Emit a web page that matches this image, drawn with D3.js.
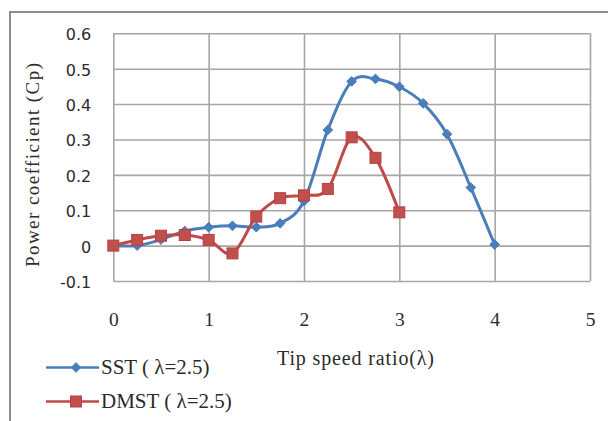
<!DOCTYPE html>
<html>
<head>
<meta charset="utf-8">
<script src="https://cdn.jsdelivr.net/npm/d3@7"></script>
<style>
  html, body { margin: 0; padding: 0; background: #fff; }
  svg { display: block; }
</style>
</head>
<body>
<svg id="chart" width="608" height="421"></svg>
<script>
// Tip speed ratio samples and power coefficient for each model
const tsr = [0, 0.25, 0.5, 0.75, 1, 1.25, 1.5, 1.75, 2, 2.25, 2.5, 2.75, 3, 3.25, 3.5, 3.75, 4];
const sstCp = [0, 0.0, 0.017, 0.041, 0.052, 0.056, 0.052, 0.063, 0.126, 0.327, 0.464, 0.471, 0.449, 0.402, 0.315, 0.164, 0.003];
const dmstTsr = [0, 0.25, 0.5, 0.75, 1, 1.25, 1.5, 1.75, 2, 2.25, 2.5, 2.75, 3];
const dmstCp = [0, 0.016, 0.028, 0.030, 0.016, -0.022, 0.082, 0.134, 0.142, 0.160, 0.306, 0.248, 0.094];

const xTicks = [0, 1, 2, 3, 4, 5];
const xTickLabels = ["0", "1", "2", "3", "4", "5"];
const yTicks = [-0.1, 0, 0.1, 0.2, 0.3, 0.4, 0.5, 0.6];
const yTickLabels = ["-0.1", "0", "0.1", "0.2", "0.3", "0.4", "0.5", "0.6"];

const seriesNames = ["SST ( \u03bb=2.5)", "DMST ( \u03bb=2.5)"];
const xTitle = "Tip speed ratio(\u03bb)";
const yTitle = "Power coefficient (Cp)";

const svg = d3.select("#chart");
const plotL = 113.3, plotR = 590, plotT = 33.3, plotB = 281;

const x = d3.scaleLinear().domain([0, 5]).range([plotL, plotR]);
const y = d3.scaleLinear().domain([-0.1, 0.6]).range([plotB, plotT]);

const blue = "#4a7ebb", red = "#be4b48";
const ink = "#2b2b2b";
const serif = "'Liberation Serif', 'Times New Roman', serif";

// outer chart frame (top and left edges)
svg.append("path")
  .attr("d", "M10,421 L10,12 L608,12")
  .attr("fill", "none").attr("stroke", "#8c8c8c").attr("stroke-width", 2);

// gridlines
const gridX = svg.append("g").attr("transform", `translate(0,${plotB})`)
  .call(d3.axisBottom(x).tickValues(xTicks).tickSize(-(plotB - plotT)).tickFormat(""));
const gridY = svg.append("g").attr("transform", `translate(${plotL},0)`)
  .call(d3.axisLeft(y).tickValues(yTicks).tickSize(-(plotR - plotL)).tickFormat(""));
[gridX, gridY].forEach(g => {
  g.select(".domain").remove();
  g.selectAll("line").attr("stroke", "#a6a6a6").attr("stroke-width", 1.6);
});

// tick labels
const yAxis = svg.append("g").attr("transform", `translate(${plotL},0)`)
  .call(d3.axisLeft(y).tickValues(yTicks).tickSize(0).tickPadding(22)
    .tickFormat((d, i) => yTickLabels[i]));
yAxis.select(".domain").remove();
yAxis.selectAll("text")
  .attr("font-family", "'DejaVu Sans', Verdana, sans-serif")
  .attr("font-size", 16).attr("fill", ink).attr("dy", "0.4em");

const xAxis = svg.append("g").attr("transform", `translate(0,${plotB})`)
  .call(d3.axisBottom(x).tickValues(xTicks).tickSize(0).tickPadding(31)
    .tickFormat((d, i) => xTickLabels[i]));
xAxis.select(".domain").remove();
xAxis.selectAll("text")
  .attr("font-family", serif).attr("font-size", 19.5).attr("fill", ink);

// axis titles
svg.append("text")
  .attr("x", 355.5).attr("y", 365)
  .attr("text-anchor", "middle")
  .attr("font-family", serif).attr("font-size", 20).attr("fill", ink)
  .attr("textLength", 157).attr("lengthAdjust", "spacing")
  .text(xTitle);

svg.append("text")
  .attr("transform", "translate(39,165) rotate(-90)")
  .attr("text-anchor", "middle")
  .attr("font-family", serif).attr("font-size", 19).attr("fill", ink)
  .attr("textLength", 204).attr("lengthAdjust", "spacing")
  .text(yTitle);

// series
const line = d3.line()
  .x(d => x(d[0])).y(d => y(d[1]))
  .curve(d3.curveCardinal.tension(0));

const sst = tsr.map((t, i) => [t, sstCp[i]]);
const dmst = dmstTsr.map((t, i) => [t, dmstCp[i]]);

const diamond = d3.symbol().type(d3.symbolDiamond2).size(60);

function drawDiamond(g, cx, cy) {
  g.append("path").attr("d", diamond())
    .attr("transform", `translate(${cx},${cy})`)
    .attr("fill", blue).attr("stroke", blue).attr("stroke-width", 1);
}
function drawSquare(g, cx, cy) {
  g.append("rect")
    .attr("x", cx - 5.5).attr("y", cy - 5.5)
    .attr("width", 11).attr("height", 11)
    .attr("fill", "#c0504d").attr("stroke", "#b8413e").attr("stroke-width", 1);
}

svg.append("path").datum(sst)
  .attr("d", line).attr("fill", "none")
  .attr("stroke", blue).attr("stroke-width", 3).attr("stroke-linejoin", "round");
const sstMarks = svg.append("g");
sst.forEach(d => drawDiamond(sstMarks, x(d[0]), y(d[1])));

svg.append("path").datum(dmst)
  .attr("d", line).attr("fill", "none")
  .attr("stroke", red).attr("stroke-width", 3).attr("stroke-linejoin", "round");
const dmstMarks = svg.append("g");
dmst.forEach(d => drawSquare(dmstMarks, x(d[0]), y(d[1])));

// legend
const legend = svg.append("g");
[[blue, 367.5, "d"], [red, 401.5, "s"]].forEach((s, i) => {
  legend.append("line")
    .attr("x1", 46).attr("x2", 99).attr("y1", s[1]).attr("y2", s[1])
    .attr("stroke", s[0]).attr("stroke-width", 2.5);
  if (s[2] === "d") drawDiamond(legend, 76, s[1]);
  else drawSquare(legend, 76, s[1]);
  legend.append("text")
    .attr("x", 101).attr("y", s[1] + 6.5)
    .attr("font-family", serif).attr("font-size", 21).attr("fill", ink)
    .text(seriesNames[i]);
});
</script>
</body>
</html>
